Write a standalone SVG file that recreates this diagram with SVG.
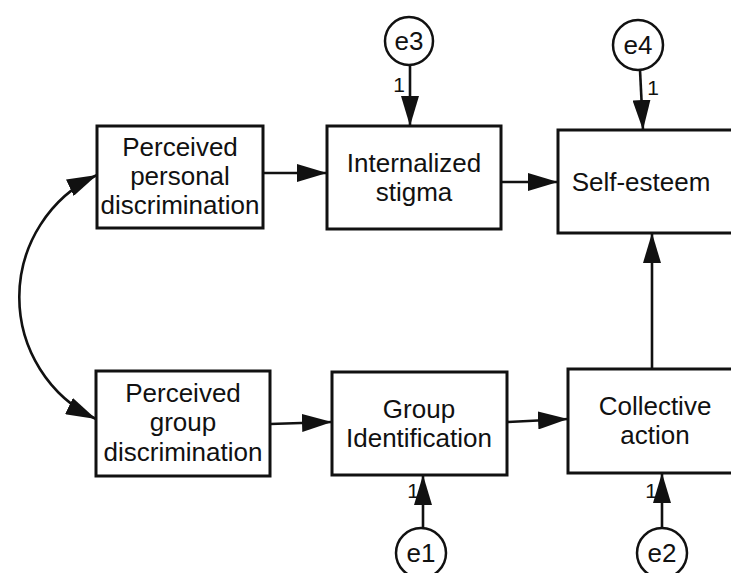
<svg xmlns="http://www.w3.org/2000/svg" width="731" height="573" viewBox="0 0 731 573">
<style>
.box{fill:#fff;stroke:#111;stroke-width:3}
.err{fill:#fff;stroke:#111;stroke-width:2.5}
.lbl{font-family:"Liberation Sans",Arial,sans-serif;font-size:26px;fill:#111;text-anchor:middle}
.elbl{font-family:"Liberation Sans",Arial,sans-serif;font-size:26px;fill:#111;text-anchor:middle}
.one{font-family:"Liberation Sans",Arial,sans-serif;font-size:21px;fill:#111;text-anchor:middle}
.edge{fill:none;stroke:#111;stroke-width:2.6}
</style>
<defs>
<marker id="ah" markerUnits="userSpaceOnUse" markerWidth="30" markerHeight="18" viewBox="0 0 30 18" refX="30" refY="9" orient="auto-start-reverse">
<path d="M0,0 L30,9 L0,18 Z" fill="#111"/>
</marker>
</defs>
<rect width="731" height="573" fill="#fff"/>
<g id="connectors">
<path class="edge" d="M 97 175 A 135 135 0 0 0 96 419" marker-start="url(#ah)" marker-end="url(#ah)"/>
<line class="edge" x1="263" y1="173" x2="327" y2="173" marker-end="url(#ah)"/>
<line class="edge" x1="501" y1="182" x2="558" y2="182" marker-end="url(#ah)"/>
<line class="edge" x1="270" y1="424" x2="332" y2="422" marker-end="url(#ah)"/>
<line class="edge" x1="507" y1="422" x2="568" y2="419" marker-end="url(#ah)"/>
<line class="edge" x1="410" y1="65" x2="410" y2="126" marker-end="url(#ah)"/>
<line class="edge" x1="640" y1="70" x2="643" y2="130" marker-end="url(#ah)"/>
<line class="edge" x1="423" y1="528" x2="423" y2="475" marker-end="url(#ah)"/>
<line class="edge" x1="662" y1="528" x2="662" y2="473" marker-end="url(#ah)"/>
<line class="edge" x1="652" y1="369" x2="652" y2="233" marker-end="url(#ah)"/>
<text class="one" x="399" y="92">1</text>
<text class="one" x="653" y="95">1</text>
<text class="one" x="413" y="498">1</text>
<text class="one" x="651" y="498">1</text>
</g>
<g id="personal">
<rect class="box" x="97" y="126" width="166" height="102"/>
<text class="lbl" x="180" y="156">Perceived</text>
<text class="lbl" x="180" y="185">personal</text>
<text class="lbl" x="180" y="214">discrimination</text>
</g>
<g id="internalized">
<rect class="box" x="327" y="126" width="174" height="103"/>
<text class="lbl" x="414" y="172">Internalized</text>
<text class="lbl" x="414" y="201">stigma</text>
</g>
<g id="selfesteem">
<rect class="box" x="558" y="130" width="185" height="103"/>
<text class="lbl" x="641" y="191">Self-esteem</text>
</g>
<g id="groupdisc">
<rect class="box" x="96" y="371" width="174" height="105"/>
<text class="lbl" x="183" y="402">Perceived</text>
<text class="lbl" x="183" y="431">group</text>
<text class="lbl" x="183" y="461">discrimination</text>
</g>
<g id="groupid">
<rect class="box" x="332" y="372" width="175" height="103"/>
<text class="lbl" x="419" y="418">Group</text>
<text class="lbl" x="419" y="447">Identification</text>
</g>
<g id="collective">
<rect class="box" x="568" y="369" width="175" height="104"/>
<text class="lbl" x="655" y="415">Collective</text>
<text class="lbl" x="655" y="444">action</text>
</g>
<g id="e3">
<circle class="err" cx="409" cy="41" r="24"/>
<text class="elbl" x="409" y="50">e3</text>
</g>
<g id="e4">
<circle class="err" cx="638" cy="45" r="25"/>
<text class="elbl" x="638" y="54">e4</text>
</g>
<g id="e1">
<circle class="err" cx="421" cy="553" r="25"/>
<text class="elbl" x="421" y="562">e1</text>
</g>
<g id="e2">
<circle class="err" cx="662" cy="553" r="25"/>
<text class="elbl" x="662" y="562">e2</text>
</g>
</svg>
